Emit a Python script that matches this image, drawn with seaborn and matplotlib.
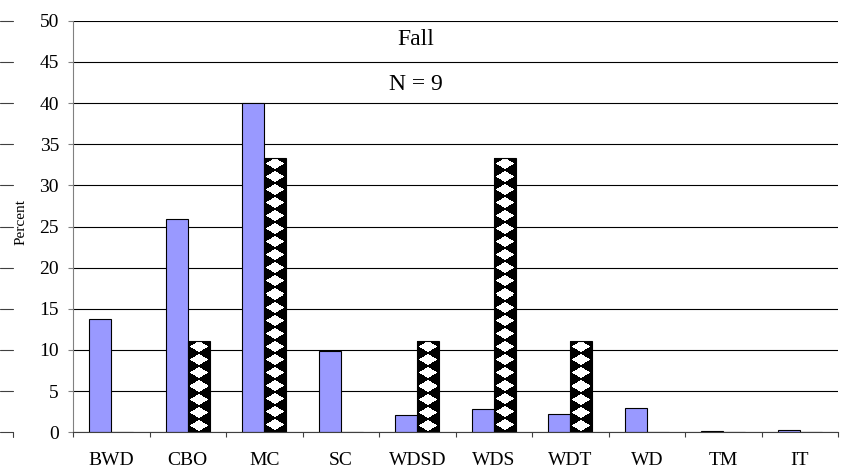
import numpy as np
import pandas as pd
import matplotlib
matplotlib.use("Agg")
import matplotlib.pyplot as plt
from matplotlib import transforms
from matplotlib.lines import Line2D
from matplotlib.ticker import FixedLocator
import seaborn as sns

# ---- data -------------------------------------------------------------
categories = ["BWD", "CBO", "MC", "SC", "WDSD", "WDS", "WDT", "WD", "TM", "IT"]
series_names = ["Group A", "Group B"]
group_a = [13.8, 25.9, 40.0, 9.9, 2.1, 2.8, 2.2, 3.0, 0.1, 0.3]
group_b = [0.0, 11.1, 33.3, 0.0, 11.1, 33.3, 11.1, 0.0, 0.0, 0.0]
y_ticks = [0, 5, 10, 15, 20, 25, 30, 35, 40, 45, 50]
season_label = "Fall"
sample_label = "N = 9"
y_label = "Percent"

df = pd.DataFrame({
    "category": categories * 2,
    "series": [series_names[0]] * len(categories) + [series_names[1]] * len(categories),
    "percent": group_a + group_b,
})

# ---- style ------------------------------------------------------------
sns.set_theme(style="white")
plt.rcParams["font.family"] = ["Liberation Serif", "DejaVu Serif"]
plt.rcParams["text.color"] = "black"

W, H, DPI = 846, 470, 100
fig = plt.figure(figsize=(W / DPI, H / DPI), dpi=DPI)
fig.patch.set_facecolor("white")
ax_left, ax_right, ax_top, ax_bottom = 73, 838, 20.7, 432.3
ax = fig.add_axes([ax_left / W, 1 - ax_bottom / H,
                   (ax_right - ax_left) / W, (ax_bottom - ax_top) / H])

sns.barplot(data=df, x="category", y="percent", hue="series",
            order=categories, hue_order=series_names,
            palette=["#9999FF", "white"], saturation=1,
            width=0.575, dodge=True, errorbar=None, legend=False,
            edgecolor="black", linewidth=0.8, ax=ax)

ax.set_ylim(0, 50)
ax.set_xlim(-0.5, len(categories) - 0.5)
ax.set_xlabel("")
ax.set_ylabel("")

# horizontal grid
ax.set_yticks(y_ticks)
ax.yaxis.grid(True, color="black", linewidth=0.8)
ax.xaxis.grid(False)
ax.set_axisbelow(True)

# spines
for side in ("top", "right"):
    ax.spines[side].set_visible(False)
ax.spines["left"].set_color("#808080")
ax.spines["left"].set_linewidth(0.8)
ax.spines["bottom"].set_color("#404040")
ax.spines["bottom"].set_linewidth(0.8)

# ticks
ax.tick_params(axis="y", left=True, length=3.6, width=0.8, color="#808080",
               pad=6.5, labelsize=14, labelcolor="black")
ax.set_xticks(range(len(categories)))
ax.set_xticklabels(categories)
ax.tick_params(axis="x", which="major", bottom=True, length=0, pad=14.5,
               labelsize=14, labelcolor="black")
ax.xaxis.set_minor_locator(FixedLocator(np.arange(-0.5, len(categories), 1.0)))
ax.tick_params(axis="x", which="minor", bottom=True, length=3.6, width=0.8,
               color="#404040")

# ---- diamond checker fill for the second series -----------------------
PERIOD_V = 13.0
WHITE_SIZE = 0.85
for bar in ax.containers[1]:
    h = bar.get_height()
    if h <= 0:
        continue
    x0, y0 = bar.get_x(), bar.get_y()
    x1, y1 = x0 + bar.get_width(), y0 + h
    (px0, py0), (px1, py1) = ax.transData.transform([(x0, y0), (x1, y1)])
    nu = max(int(round(px1 - px0)), 1)
    nv = max(int(round(py1 - py0)), 1)
    pu = float(nu)
    U, V = np.meshgrid(np.arange(nu) + 0.5, np.arange(nv) + 0.5)
    du = np.abs((U % pu) - pu / 2) / (pu / 2)
    dv = np.abs((V % PERIOD_V) - PERIOD_V / 2) / (PERIOD_V / 2)
    img = np.where(du + dv > WHITE_SIZE, 0.0, 1.0)
    z = bar.get_zorder()
    im = ax.imshow(img, cmap="gray", vmin=0, vmax=1, extent=(x0, x1, y0, y1),
                   interpolation="nearest", aspect="auto", origin="upper",
                   zorder=z + 0.1)
    im.set_clip_path(bar)
    bar.set_facecolor("none")
    bar.set_zorder(z + 0.2)

ax.set_ylim(0, 50)
ax.set_xlim(-0.5, len(categories) - 0.5)

# ---- annotations -------------------------------------------------------
mixed = transforms.blended_transform_factory(ax.transAxes, ax.transData)
ax.text(0.448, 47.7, season_label, transform=mixed,
        ha="center", va="center", fontsize=17, color="black")
ax.text(0.448, 42.3, sample_label, transform=mixed,
        ha="center", va="center", fontsize=17, color="black")
fig.text(21 / W, 1 - 222 / H, y_label, rotation=90, ha="center", va="center",
         fontsize=11, color="black")

# short tick stubs of the neighbouring panel along the left border
stub = transforms.blended_transform_factory(fig.transFigure, ax.transData)
for yv in y_ticks:
    fig.add_artist(Line2D([0, 13 / W], [yv, yv], transform=stub,
                          color="#404040", linewidth=0.8, clip_on=False))
fig.add_artist(Line2D([13 / W, 13 / W], [1 - ax_bottom / H, 1 - (ax_bottom + 5) / H],
                      transform=fig.transFigure, color="#404040", linewidth=0.8))

fig.savefig("out.png", dpi=DPI, facecolor="white")
